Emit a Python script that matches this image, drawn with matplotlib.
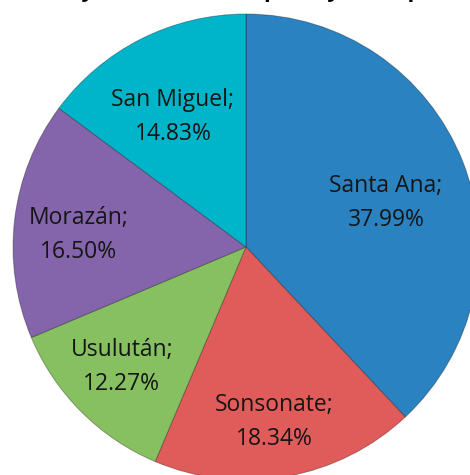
import numpy as np
import matplotlib.pyplot as plt

# data
departamentos = ['Santa Ana', 'Sonsonate', 'Usulután', 'Morazán', 'San Miguel']
porcentajes = [37.99, 18.34, 12.27, 16.50, 14.83]
colores = ['#2A82C0', '#E05C5A', '#86C060', '#8464AA', '#00B4CA']
# label placement like excel's best fit: radius fraction and small angle nudge (deg)
label_r = [0.63, 0.76, 0.74, 0.72, 0.64]
label_nudge = [-4.0, -1.0, -1.0, 2.7, 2.6]

fig = plt.figure(figsize=(4.7, 4.75), dpi=100)
ax = fig.add_axes([0, 0, 1, 1])

wedges, _ = ax.pie(porcentajes, colors=colores, startangle=90, counterclock=False,
                   radius=1, wedgeprops=dict(edgecolor=(0, 0, 0, 0.3), linewidth=0.7))

for w, name, pct, r, dn in zip(wedges, departamentos, porcentajes, label_r, label_nudge):
    ang = np.deg2rad((w.theta1 + w.theta2) / 2 + dn)
    ax.text(r * np.cos(ang), r * np.sin(ang), '%s;\n%.2f%%' % (name, pct),
            ha='center', va='center', fontsize=16.5, family='Open Sans',
            color='#151515', linespacing=1.55)

# figure is cropped: pie centre at (246, 247) px, radius 233 px
R = 233.0
ax.set_xlim(-246 / R, (470 - 246) / R)
ax.set_ylim(-(475 - 247) / R, 247 / R)
ax.set_aspect('equal')
ax.axis('off')

# title sits above the visible area, only the descenders show
fig.text(0.0, 1.0 + 3 / 475, 'Ventas y distribuciones por ley de importación',
         ha='left', va='baseline', fontsize=16, fontweight='bold', color='black',
         family='Open Sans')

fig.savefig('out.png', dpi=100)
